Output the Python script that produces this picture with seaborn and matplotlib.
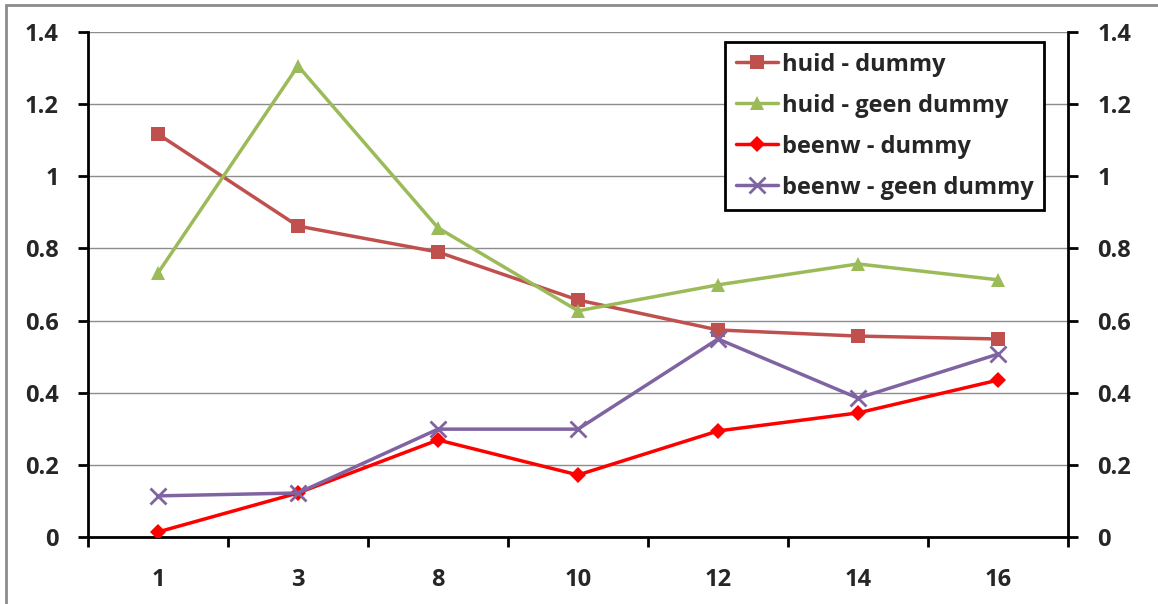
import pandas as pd
import matplotlib.pyplot as plt
import seaborn as sns
from matplotlib.patches import Rectangle

# data
groepen = ['1', '3', '8', '10', '12', '14', '16']
huid_dummy = [1.117, 0.862, 0.790, 0.657, 0.574, 0.557, 0.549]
huid_geen_dummy = [0.732, 1.306, 0.857, 0.627, 0.699, 0.757, 0.713]
beenw_dummy = [0.014, 0.122, 0.269, 0.172, 0.294, 0.344, 0.435]
beenw_geen_dummy = [0.114, 0.122, 0.299, 0.299, 0.549, 0.385, 0.507]

reeksen = ['huid - dummy', 'huid - geen dummy', 'beenw - dummy', 'beenw - geen dummy']
kleuren = ['#C0504D', '#9BBB59', '#FF0000', '#8064A2']
markers = ['s', '^', 'D', 'x']
waarden = [huid_dummy, huid_geen_dummy, beenw_dummy, beenw_geen_dummy]

sns.set_style('white')
plt.rcParams['font.family'] = ['Open Sans', 'DejaVu Sans']
plt.rcParams['font.weight'] = 'bold'

fig = plt.figure(figsize=(11.58, 6.04), dpi=100)
ax = fig.add_axes([88 / 1158, 67 / 604, 980 / 1158, 505 / 604])

for naam, kleur, m, y in zip(reeksen, kleuren, markers, waarden):
    dados = pd.DataFrame({'groep': groepen, 'waarde': y})
    if m == 'x':
        stijl = dict(markersize=11, markeredgewidth=2, markeredgecolor=kleur)
    else:
        stijl = dict(markersize=10 if m != 'D' else 8.5, markeredgewidth=0)
    sns.lineplot(data=dados, x='groep', y='waarde', color=kleur, marker=m,
                 linewidth=2.5, sort=False, ax=ax, label=naam, zorder=3, **stijl)

ax.set_xlim(-0.5, 6.5)
ax.set_ylim(0, 1.4)
ax.set_yticks([0, 0.2, 0.4, 0.6, 0.8, 1.0, 1.2, 1.4])
ax.set_yticklabels(['0', '0.2', '0.4', '0.6', '0.8', '1', '1.2', '1.4'])
ax.set_xticks(range(len(groepen)))
ax.set_xticklabels(groepen)
ax.set_xticks([i - 0.5 for i in range(len(groepen) + 1)], minor=True)
ax.tick_params(axis='x', which='major', length=0, pad=22, labelsize=17)
ax.tick_params(axis='x', which='minor', length=7, width=2, direction='out', color='black', bottom=True)
ax.tick_params(axis='y', length=7, width=2, direction='out', color='black', left=True, labelsize=17, pad=14)
ax.grid(axis='y', color='#8c8c8c', linewidth=1)
ax.set_axisbelow(True)
ax.set_xlabel('')
ax.set_ylabel('')

for kant in ['left', 'bottom']:
    ax.spines[kant].set_color('black')
    ax.spines[kant].set_linewidth(2)
for kant in ['top', 'right']:
    ax.spines[kant].set_visible(False)

handles, labels = ax.get_legend_handles_labels()
ax.get_legend().remove()

ax2 = ax.twinx()
ax2.set_ylim(0, 1.4)
ax2.set_yticks([0, 0.2, 0.4, 0.6, 0.8, 1.0, 1.2, 1.4])
ax2.set_yticklabels(['0', '0.2', '0.4', '0.6', '0.8', '1', '1.2', '1.4'])
ax2.tick_params(axis='y', length=7, width=2, direction='out', color='black', right=True, labelsize=17, pad=14)
for kant in ['left', 'top', 'bottom']:
    ax2.spines[kant].set_visible(False)
ax2.spines['right'].set_color('black')
ax2.spines['right'].set_linewidth(2)
for lbl in ax.get_xticklabels() + ax.get_yticklabels() + ax2.get_yticklabels():
    lbl.set_fontweight('bold')

# legend
leg = ax2.legend(handles, labels, loc='upper left', bbox_to_anchor=(637 / 980, 1 - 10 / 505),
                 frameon=True, fancybox=False, prop={'size': 17, 'weight': 'bold'},
                 handlelength=1.8, handletextpad=0.15, labelspacing=0.72, borderpad=0.45,
                 borderaxespad=0)
leg.get_frame().set_edgecolor('black')
leg.get_frame().set_linewidth(2)
leg.get_frame().set_alpha(1)

# outer border of the chart
fig.patches.append(Rectangle((6 / 1158, -0.05), 1.1, (604 - 5) / 604 + 0.05, transform=fig.transFigure,
                             fill=False, edgecolor='#8c8c8c', linewidth=2))

fig.savefig('out.png', dpi=100)
